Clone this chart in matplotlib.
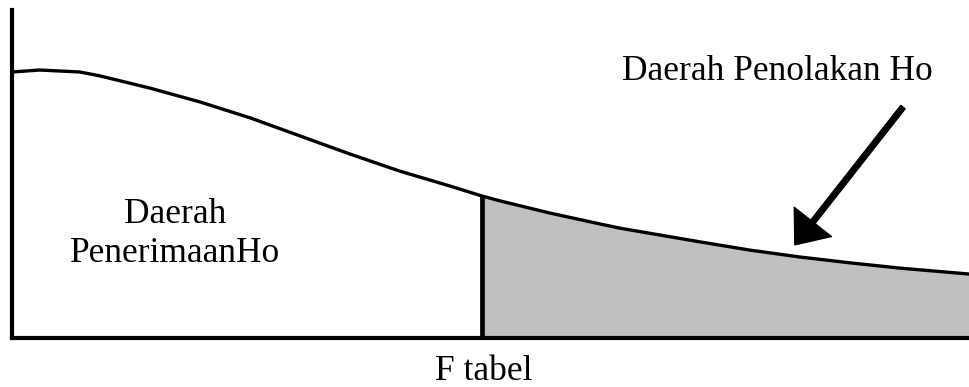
#!/usr/bin/env python3
"""
F distribution sketch: acceptance vs rejection region of Ho.
"""

import matplotlib
matplotlib.use('Agg')
import matplotlib.pyplot as plt
import numpy as np

# curve (arbitrary units)
curve_x = [0.0, 0.29, 0.71, 0.92, 1.44, 1.96, 2.49, 3.01, 3.53, 4.05, 4.58, 4.91,
           5.10, 5.62, 6.14, 6.35, 7.19, 7.71, 8.23, 8.76, 9.28, 10.0]
curve_y = [0.811, 0.817, 0.811, 0.799, 0.762, 0.720, 0.671, 0.616, 0.561, 0.509, 0.463, 0.433,
           0.418, 0.381, 0.348, 0.335, 0.293, 0.268, 0.247, 0.229, 0.213, 0.195]
f_tabel = 4.91
arrow_tip = (8.18, 0.284)
arrow_tail = (9.31, 0.704)

label_accept = "Daerah\nPenerimaanHo"
label_reject = "Daerah Penolakan Ho"
label_crit = "F tabel"

W, H = 969, 387
fig = plt.figure(figsize=(W / 100, H / 100), dpi=100)
ax = fig.add_axes([12 / W, (H - 338) / H, (W - 12) / W, (338 - 10) / H])

x = np.array(curve_x)
y = np.array(curve_y)

mask = x >= f_tabel
ax.fill_between(x[mask], 0, y[mask], color="#c0c0c0", linewidth=0)
ax.plot(x, y, color="black", linewidth=2.4, solid_joinstyle="round",
        solid_capstyle="round")
ax.vlines(f_tabel, 0, np.interp(f_tabel, x, y), color="black", linewidth=3.4)

ax.annotate("", xy=arrow_tip, xytext=arrow_tail,
            arrowprops=dict(facecolor="black", edgecolor="black",
                            width=4.0, headwidth=34, headlength=21))

ax.set_xlim(0, 10)
ax.set_ylim(0, 1)
ax.set_xticks([])
ax.set_yticks([])
for side in ("top", "right"):
    ax.spines[side].set_visible(False)
for side in ("left", "bottom"):
    ax.spines[side].set_linewidth(3)

font = dict(family="Liberation Serif", fontsize=25.5, color="black")
fig.text(175 / W, 1 - 234 / H, label_accept, ha="center", va="center",
         linespacing=1.25, **font)
fig.text(777 / W, 1 - 71 / H, label_reject, ha="center", va="center", **font)
fig.text(484 / W, 1 - 371 / H, label_crit, ha="center", va="center", **font)

fig.savefig("out.png", dpi=100)
plt.close(fig)
